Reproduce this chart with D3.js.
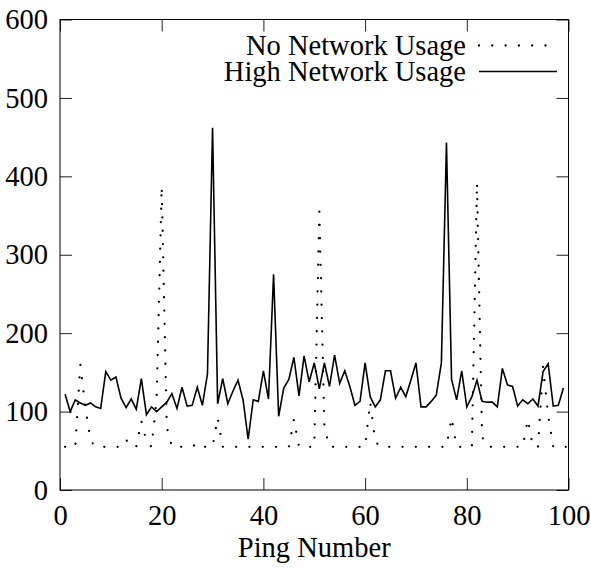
<!DOCTYPE html>
<html>
<head>
<meta charset="utf-8">
<script src="https://cdn.jsdelivr.net/npm/d3@7"></script>
<style>
  body { margin: 0; background: #fff; }
  text { font-family: "Liberation Serif", "DejaVu Serif", serif; fill: #000; }
</style>
</head>
<body>
<div id="pingViz"></div>
<script>
// ping numbers for each series
var pingsHigh = d3.range(1, 100);
var pingsNone = d3.range(1, 101);

// High Network Usage (ms)
var highUsage = [
    122, 100, 115, 111, 108, 111, 106, 104, 151, 140,
    144, 117, 105, 116, 103, 142,  96, 106, 100, 106,
    112, 123, 104, 131, 107, 108, 131, 108, 148, 462,
    110, 142, 110, 126, 140, 115,  65, 115, 113, 152,
    116, 275,  94, 130, 141, 169, 120, 171, 138, 162,
    129, 162, 132, 172, 136, 152, 132, 108, 113, 162,
    119, 106, 115, 152, 152, 117, 131, 119, 140, 162,
    106, 106, 113, 121, 162, 443, 141, 115, 152, 106,
    119, 140, 113, 112, 112, 106, 155, 134, 132, 107,
    115, 110, 116, 107, 151, 161, 107, 108, 130
];

// No Network Usage (ms)
var noUsage = [
     55,  55,  55, 160, 105,  63,  55,  55,  55,  55,
     55,  55,  64,  55,  55,  88,  62,  55, 115, 387,
     80,  55,  55,  55,  55,  55,  60,  55,  55,  55,
     92,  55,  55,  55,  55,  55,  55,  55,  55,  55,
     55,  55,  55,  55,  55,  90,  55,  55,  55,  55,
    355,  80,  55,  55,  55,  55,  55,  55,  55,  55,
    112,  62,  55,  55,  55,  55,  55,  55,  55,  55,
     55,  55,  55,  55,  55,  55,  92,  55,  55,  55,
     55, 392,  68,  55,  55,  55,  55,  55,  55,  55,
     55,  90,  55,  55, 157,  95,  55,  55,  55,  55
];

var xTicks = [0, 20, 40, 60, 80, 100];
var yTicks = [0, 100, 200, 300, 400, 500, 600];
var seriesNames = ["No Network Usage", "High Network Usage"];

var margin = {top: 19.5, right: 22.5, bottom: 79, left: 60},
    width = 591 - margin.left - margin.right,
    height = 569 - margin.top - margin.bottom;
var fontSize = "28.5px";

var svg = d3.select("#pingViz")
    .append("svg")
        .attr("width", 591)
        .attr("height", 569)
    .append("g")
        .attr("transform", "translate(" + margin.left + "," + margin.top + ")");

var x = d3.scaleLinear().domain([0, 100]).range([0, width]);
var y = d3.scaleLinear().domain([0, 600]).range([height, 0]);

function styleAxis(g) {
    g.select(".domain").remove();
    g.selectAll(".tick line").attr("stroke", "#222").attr("stroke-width", 1);
    g.selectAll(".tick text").style("font-size", fontSize);
}

// bottom + left axes with labels, ticks pointing in
svg.append("g")
    .attr("transform", "translate(0," + height + ")")
    .call(d3.axisBottom(x).tickValues(xTicks).tickSizeInner(-12).tickSizeOuter(0).tickPadding(15))
    .call(styleAxis);
svg.append("g")
    .call(d3.axisLeft(y).tickValues(yTicks).tickSizeInner(-12).tickSizeOuter(0).tickPadding(12))
    .call(styleAxis);
// mirrored ticks on top and right
svg.append("g")
    .call(d3.axisTop(x).tickValues(xTicks).tickSizeInner(-12).tickSizeOuter(0).tickFormat(""))
    .call(styleAxis);
svg.append("g")
    .attr("transform", "translate(" + width + ",0)")
    .call(d3.axisRight(y).tickValues(yTicks).tickSizeInner(-12).tickSizeOuter(0).tickFormat(""))
    .call(styleAxis);

// border
svg.append("rect")
    .attr("x", 0).attr("y", 0)
    .attr("width", width).attr("height", height)
    .attr("fill", "none")
    .attr("stroke", "#000")
    .attr("stroke-width", 1);

// x label
svg.append("text")
    .attr("x", width / 2)
    .attr("y", height + 67)
    .attr("text-anchor", "middle")
    .style("font-size", fontSize)
    .text("Ping Number");

// no network usage, dotted
svg.append("path")
    .datum(noUsage)
    .attr("fill", "none")
    .attr("stroke", "#000")
    .attr("stroke-width", 2.3)
    .attr("stroke-linecap", "round")
    .attr("stroke-dasharray", "0 13.3")
    .attr("d", d3.line()
        .x(function(d, i) { return x(pingsNone[i]); })
        .y(function(d) { return y(d); })
    );

// high network usage, solid
svg.append("path")
    .datum(highUsage)
    .attr("fill", "none")
    .attr("stroke", "#000")
    .attr("stroke-width", 1.6)
    .attr("d", d3.line()
        .x(function(d, i) { return x(pingsHigh[i]); })
        .y(function(d) { return y(d); })
    );

// legend
var legend = svg.append("g").attr("transform", "translate(406,0)");
var rowY = [26, 52];
seriesNames.forEach(function(name, i) {
    legend.append("text")
        .attr("x", 0)
        .attr("y", rowY[i])
        .attr("dy", "0.32em")
        .attr("text-anchor", "end")
        .style("font-size", fontSize)
        .text(name);
    legend.append("line")
        .attr("x1", 13).attr("x2", 91)
        .attr("y1", rowY[i]).attr("y2", rowY[i])
        .attr("stroke", "#000")
        .attr("stroke-width", i == 0 ? 2.3 : 1.4)
        .attr("stroke-linecap", i == 0 ? "round" : "butt")
        .attr("stroke-dasharray", i == 0 ? "0 13.3" : null);
});
</script>
</body>
</html>
